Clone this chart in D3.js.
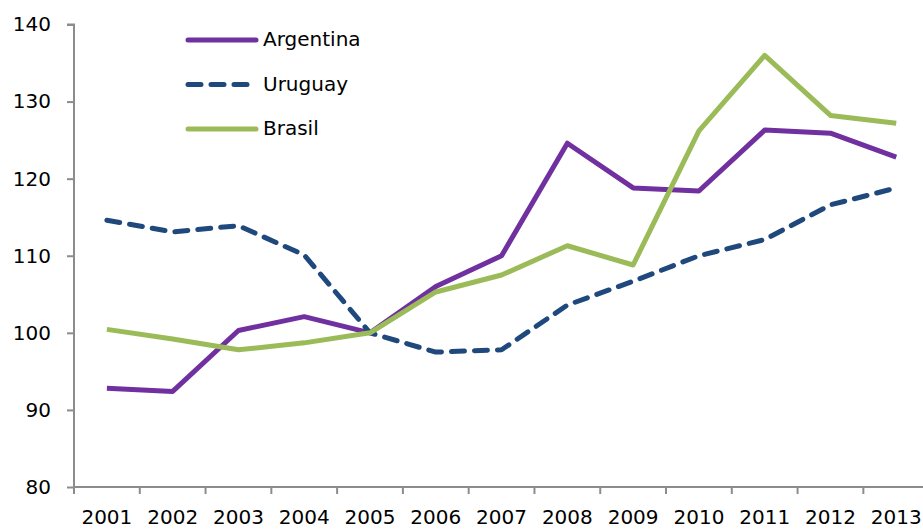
<!DOCTYPE html>
<html>
<head>
<meta charset="utf-8">
<script src="https://cdn.jsdelivr.net/npm/d3@7"></script>
<style>
  body { margin: 0; background: #fff; }
  svg { display: block; font-family: "DejaVu Sans", sans-serif; }
  .axis path, .axis line { stroke: #8c8c8c; stroke-width: 2; }
  .axis text { fill: #000; font-size: 20px; font-family: "DejaVu Sans", sans-serif; }
</style>
</head>
<body>
<svg id="chart" width="923" height="529"></svg>
<script>
// data
const years = ["2001","2002","2003","2004","2005","2006","2007","2008","2009","2010","2011","2012","2013"];
const argentina = [92.8, 92.4, 100.3, 102.1, 100.0, 106.0, 110.0, 124.6, 118.8, 118.4, 126.3, 125.9, 122.8];
const uruguay = [114.6, 113.1, 113.9, 110.1, 100.0, 97.5, 97.8, 103.6, 106.7, 110.0, 112.1, 116.6, 118.8];
const brasil = [100.45, 99.2, 97.8, 98.7, 100.0, 105.3, 107.5, 111.3, 108.8, 126.2, 136.0, 128.2, 127.2];
const yTicks = [80, 90, 100, 110, 120, 130, 140];

const series = [
    { name: "Argentina", values: argentina, color: "#7030a0", dash: null },
    { name: "Uruguay", values: uruguay, color: "#1f497d", dash: "13,10" },
    { name: "Brasil", values: brasil, color: "#9bbb59", dash: null }
];

const svg = d3.select("#chart");

// plot area, the last band runs past the right edge like the original
const plotLeft = 74, plotTop = 24.5, plotBottom = 487;
const bandW = 65.78;

const x = d3.scaleBand()
    .domain(years)
    .range([plotLeft, plotLeft + bandW * years.length]);

const y = d3.scaleLinear()
    .domain([80, 140])
    .range([plotBottom, plotTop]);

//y axis
const yAxis = d3.axisLeft(y)
    .tickValues(yTicks)
    .tickSize(7)
    .tickPadding(16);
svg.append("g")
    .attr("class", "axis")
    .attr("transform", `translate(${plotLeft},0)`)
    .call(yAxis)
    .call(g => g.attr("font-family", null).attr("font-size", null))
    .call(g => g.select(".domain").attr("d", `M-7,${plotTop}H0V${plotBottom}`));

//x axis, ticks sit on band edges
const xAxisG = svg.append("g")
    .attr("class", "axis")
    .attr("transform", `translate(0,${plotBottom})`);
xAxisG.append("path")
    .attr("class", "domain")
    .attr("fill", "none")
    .attr("d", `M${plotLeft},0H${x.range()[1]}`);
xAxisG.selectAll(".tick")
    .data(years)
    .enter()
    .append("g")
    .attr("class", "tick")
    .each(function (d) {
        const g = d3.select(this);
        g.append("line")
            .attr("x1", x(d)).attr("x2", x(d))
            .attr("y1", 0).attr("y2", 7);
        g.append("text")
            .attr("x", x(d) + x.bandwidth() / 2)
            .attr("y", 23)
            .attr("dy", "0.71em")
            .attr("text-anchor", "middle")
            .text(d);
    });

//lines
const line = d3.line()
    .x((d, i) => x(years[i]) + x.bandwidth() / 2)
    .y(d => y(d));

svg.selectAll(".series")
    .data(series)
    .enter()
    .append("path")
    .attr("class", "series")
    .attr("fill", "none")
    .attr("stroke", d => d.color)
    .attr("stroke-width", 5)
    .attr("stroke-linejoin", "round")
    .attr("stroke-linecap", d => d.dash ? "round" : "butt")
    .attr("stroke-dasharray", d => d.dash)
    .attr("d", d => line(d.values));

//legend
const legend = svg.append("g")
    .attr("transform", "translate(188,40)");
const lg = legend.selectAll("g")
    .data(series)
    .enter()
    .append("g")
    .attr("transform", (d, i) => `translate(0,${i * 44.5})`);
lg.append("line")
    .attr("x1", 0).attr("x2", 68)
    .attr("stroke", d => d.color)
    .attr("stroke-width", 5)
    .attr("stroke-linecap", "round")
    .attr("stroke-dasharray", d => d.dash);
lg.append("text")
    .attr("x", 75)
    .attr("dy", "0.3em")
    .style("font-size", "20px")
    .text(d => d.name);
</script>
</body>
</html>
